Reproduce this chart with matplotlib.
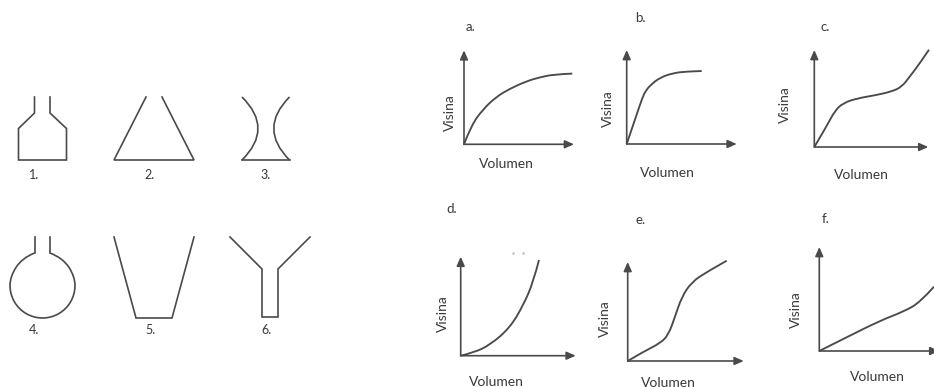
import matplotlib
matplotlib.use('Agg')
import matplotlib.pyplot as plt
from matplotlib.path import Path
from matplotlib.patches import PathPatch

plt.rcParams['font.family'] = ['Lato', 'DejaVu Sans']

W, H = 934, 387
INK = '#4a4a4a'
TXT = '#3a3a3a'

# bentuk bejana (piksel), garis lurus
shape_1x = [34.5, 34.5, 18.5, 18.5, 66.5, 66.5, 50, 50]
shape_1y = [97, 113, 128.5, 160, 160, 128.5, 113, 97]
shape_2x = [146, 114, 194, 162]
shape_2y = [97, 160, 160, 97]
base_3x = [242, 289.5]
base_3y = [160, 160]
neck_4ax = [34.5, 34.5]
neck_4bx = [50, 50]
neck_4y = [237, 253]
shape_5x = [114, 136, 172, 194]
shape_5y = [237, 318, 318, 237]
shape_6x = [230, 262, 262, 278, 278, 310]
shape_6y = [237, 269, 317, 317, 269, 237]
straight = [(shape_1x, shape_1y), (shape_2x, shape_2y), (base_3x, base_3y),
            (neck_4ax, neck_4y), (neck_4bx, neck_4y), (shape_5x, shape_5y), (shape_6x, shape_6y)]

# bagian melengkung
arc_3ax = [242, 274, 242]
arc_3ay = [97, 128.5, 160]
arc_3bx = [289.5, 258, 289.5]
arc_3by = [97, 128.5, 160]
body_4x = [34.5, 22, 10, 10, 18.7, 33.8, 51.2, 66.3, 75, 75, 63, 50]
body_4y = [253, 258, 276.8, 294.2, 309.3, 318, 318, 309.3, 294.2, 276.8, 258, 253]
bent = [(arc_3ax, arc_3ay), (arc_3bx, arc_3by), (body_4x, body_4y)]

shape_labels = ['1.', '2.', '3.', '4.', '5.', '6.']
shape_label_x = [34, 150, 266, 34, 150, 266]
shape_label_y = [175, 175, 175, 330, 330, 330]

# kurva volumen - visina
vol_a = [0, 7.3, 19, 32.3, 45.7, 62.3, 75.7, 90.7, 108.3]
vis_a = [0, 19, 35, 47.5, 55.5, 63, 67, 70, 70.7]
vol_b = [0, 8, 16, 19, 23.3, 33.3, 46.7, 60, 75]
vis_b = [0, 23.6, 47.3, 53, 58.5, 66.5, 71, 72.5, 73]
vol_c = [0, 12.3, 20.7, 29, 42.3, 62.3, 77.3, 87.3, 95.7, 105.7, 114.7]
vis_c = [0, 20.7, 36.5, 44, 48.5, 52, 55.5, 60, 70.7, 84, 97.3]
vol_d = [0, 12.7, 29.3, 49.3, 62.7, 72.7, 78.3]
vis_d = [0, 3, 10.7, 28, 50.7, 74, 95.7]
vol_e = [0, 15.7, 32.3, 40.7, 47.3, 54, 64, 79, 99]
vis_e = [0, 9.3, 17.7, 26, 44.3, 64, 79, 89, 100.3]
vol_f = [0, 27.3, 60.7, 84, 100.7, 114.7]
vis_f = [0, 13.7, 30.3, 39.3, 48.5, 64.3]

panel_names = ['a.', 'b.', 'c.', 'd.', 'e.', 'f.']
curves = [(vol_a, vis_a), (vol_b, vis_b), (vol_c, vis_c), (vol_d, vis_d), (vol_e, vis_e), (vol_f, vis_f)]
origin_x = [464, 626.7, 814.3, 460.7, 627.7, 819.3]
origin_y = [144.3, 144, 147, 355.7, 361, 351]
axis_w = [110, 110, 114, 115, 116, 120]
axis_h = [94, 94, 97, 99, 99, 104]
name_x = [470, 640.5, 825, 452, 640.7, 825.7]
name_y = [26.7, 18, 26.7, 209, 220, 219]
volumen_x = [506, 667, 861.7, 496.7, 668, 877.7]
volumen_y = [164, 173, 175, 381.7, 382.7, 376.7]
visina_x = [450, 607.7, 785, 442.7, 605, 796]
visina_y = [112.7, 109, 105, 314, 318.3, 310]
speck_x = [513.3, 523.3]
speck_y = [253.3, 253.3]


def smooth(ax, xs, ys, lw):
    # kurva kuadratik lewat titik tengah, titik baca jadi kontrol
    verts = [(xs[0], ys[0])]
    codes = [Path.MOVETO]
    for k in range(1, len(xs) - 1):
        if k < len(xs) - 2:
            end = ((xs[k] + xs[k + 1]) / 2, (ys[k] + ys[k + 1]) / 2)
        else:
            end = (xs[k + 1], ys[k + 1])
        verts += [(xs[k], ys[k]), end]
        codes += [Path.CURVE3, Path.CURVE3]
    ax.add_patch(PathPatch(Path(verts, codes), fc='none', ec=INK, lw=lw, clip_on=False))


fig = plt.figure(figsize=(W / 100, H / 100), dpi=100, facecolor='white')
page = fig.add_axes([0, 0, 1, 1])
page.set_xlim(0, W)
page.set_ylim(H, 0)
page.axis('off')

for sx, sy in straight:
    page.plot(sx, sy, color=INK, lw=1.2, solid_joinstyle='miter')
for sx, sy in bent:
    smooth(page, sx, sy, 1.2)
for lab, x, y in zip(shape_labels, shape_label_x, shape_label_y):
    page.text(x, y, lab, fontsize=9, color=TXT, ha='center', va='center')
page.plot(speck_x, speck_y, ls='none', marker='.', ms=1.5, color='#bbbbbb')

for i in range(6):
    ax = fig.add_axes([origin_x[i] / W, 1 - origin_y[i] / H, axis_w[i] / W, axis_h[i] / H])
    ax.set_xlim(0, axis_w[i])
    ax.set_ylim(0, axis_h[i])
    ax.axis('off')
    smooth(ax, curves[i][0], curves[i][1], 1.35)
    for end in [(axis_w[i], 0), (0, axis_h[i])]:
        ax.annotate('', xy=end, xytext=(0, 0), annotation_clip=False,
                    arrowprops=dict(arrowstyle='-|>,head_length=0.45,head_width=0.2', color=INK,
                                    lw=1.2, shrinkA=0, shrinkB=0, mutation_scale=12))
    page.text(name_x[i], name_y[i], panel_names[i], fontsize=9.5, color=TXT, ha='center', va='center')
    page.text(volumen_x[i], volumen_y[i], 'Volumen', fontsize=10, color=TXT, ha='center', va='center')
    page.text(visina_x[i], visina_y[i], 'Visina', fontsize=10, color=TXT, ha='center', va='center', rotation=90)

fig.savefig('out.png', dpi=100)
